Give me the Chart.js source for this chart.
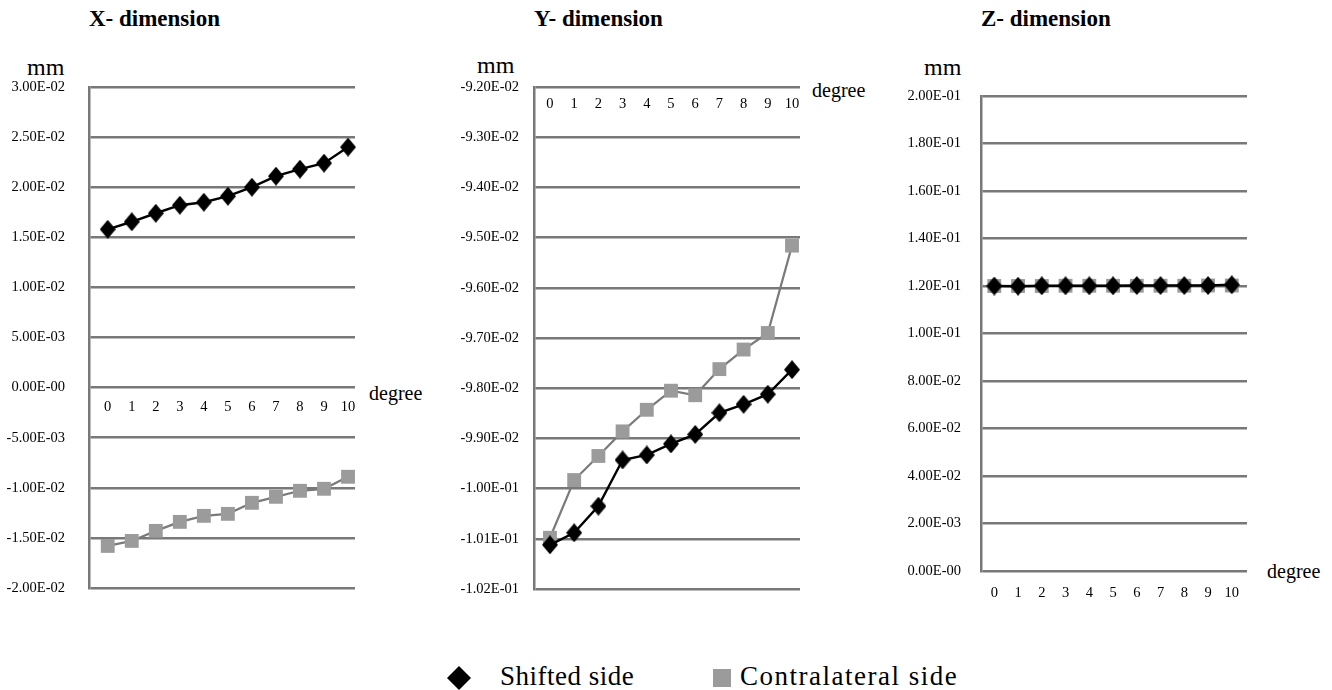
<!DOCTYPE html>
<html><head><meta charset="utf-8">
<script src="https://cdn.jsdelivr.net/npm/chart.js@4.4.0/dist/chart.umd.min.js"></script>
<style>
html,body{margin:0;padding:0;background:#fff;}
body{width:1332px;height:690px;position:relative;overflow:hidden;font-family:"Liberation Serif","DejaVu Serif",serif;color:#000;}
.t{position:absolute;white-space:nowrap;line-height:1;}
.title{font-weight:bold;font-size:23px;}
.unit{font-size:24px;}
.deg{font-size:20px;}
.cv{position:absolute;}
.leg{font-size:27px;letter-spacing:0.5px;}
</style></head><body>
<div class="t title" style="left:89px;top:7px;">X- dimension</div>
<div class="t title" style="left:534px;top:7px;">Y- dimension</div>
<div class="t title" style="left:981px;top:7px;">Z- dimension</div>
<div class="t unit" style="left:27px;top:55px;">mm</div>
<div class="t unit" style="left:477px;top:53px;">mm</div>
<div class="t unit" style="left:924px;top:55px;">mm</div>
<div class="t deg" style="left:369px;top:383px;">degree</div>
<div class="t deg" style="left:812px;top:80px;">degree</div>
<div class="t deg" style="left:1267px;top:561px;">degree</div>
<canvas id="cx" class="cv" width="440" height="560" style="left:0;top:60px;width:440px;height:560px;"></canvas>
<canvas id="cy" class="cv" width="440" height="560" style="left:440px;top:60px;width:440px;height:560px;"></canvas>
<canvas id="cz" class="cv" width="452" height="560" style="left:880px;top:60px;width:452px;height:560px;"></canvas>
<svg class="cv" style="left:447px;top:666px;" width="24" height="24"><polygon points="12,0 24,12 12,24 0,12" fill="#000"/></svg>
<div class="t leg" style="left:500px;top:663px;">Shifted side</div>
<div class="cv" style="left:713px;top:669px;width:18px;height:18px;background:#9b9b9b;"></div>
<div class="t leg" style="left:740px;top:663px;letter-spacing:1.5px;">Contralateral side</div>
<script>
const degrees = [0,1,2,3,4,5,6,7,8,9,10];
const degreeLabels = ['0','1','2','3','4','5','6','7','8','9','10'];

const xShifted = [0.0158,0.01655,0.0174,0.0182,0.0185,0.0191,0.0200,0.0211,0.0218,0.0224,0.0240];
const xContra  = [-0.0158,-0.0153,-0.0143,-0.0134,-0.0128,-0.0126,-0.0115,-0.0109,-0.0103,-0.0101,-0.0089];
const yShifted = [-0.10112,-0.10088,-0.10035,-0.09943,-0.09933,-0.09911,-0.09892,-0.09849,-0.09832,-0.09812,-0.09763];
const yContra  = [-0.10098,-0.09983,-0.09935,-0.09886,-0.09843,-0.09805,-0.09814,-0.09762,-0.09723,-0.09690,-0.09516];
const zShifted = [0.1200,0.1199,0.1201,0.1201,0.1201,0.1201,0.1202,0.1202,0.1202,0.1202,0.1205];
const zContra  = [0.1200,0.1200,0.1200,0.1201,0.1201,0.1201,0.1201,0.1201,0.1201,0.1202,0.1202];

const xTickValues = [0.03,0.025,0.02,0.015,0.01,0.005,0,-0.005,-0.01,-0.015,-0.02];
const xTickLabels = ['3.00E-02','2.50E-02','2.00E-02','1.50E-02','1.00E-02','5.00E-03','0.00E-00','-5.00E-03','-1.00E-02','-1.50E-02','-2.00E-02'];
const yTickValues = [-0.092,-0.093,-0.094,-0.095,-0.096,-0.097,-0.098,-0.099,-0.100,-0.101,-0.102];
const yTickLabels = ['-9.20E-02','-9.30E-02','-9.40E-02','-9.50E-02','-9.60E-02','-9.70E-02','-9.80E-02','-9.90E-02','-1.00E-01','-1.01E-01','-1.02E-01'];
const zTickValues = [0.20,0.18,0.16,0.14,0.12,0.10,0.08,0.06,0.04,0.02,0];
const zTickLabels = ['2.00E-01','1.80E-01','1.60E-01','1.40E-01','1.20E-01','1.00E-01','8.00E-02','6.00E-02','4.00E-02','2.00E-03','0.00E-00'];

const FONT = '"Liberation Serif", "DejaVu Serif", serif';

function diamondCanvas(w, h, color) {
  const c = document.createElement('canvas');
  c.width = w; c.height = h;
  const g = c.getContext('2d');
  g.fillStyle = color;
  g.beginPath();
  g.moveTo(w/2, 0); g.lineTo(w, h/2); g.lineTo(w/2, h); g.lineTo(0, h/2);
  g.closePath(); g.fill();
  return c;
}
const diamond = diamondCanvas(16, 19, '#000');

function makeChart(id, cfg) {
  const nearest = (vals, v) => {
    let best = 0;
    vals.forEach((t, i) => { if (Math.abs(t - v) < Math.abs(vals[best] - v)) best = i; });
    return best;
  };
  new Chart(document.getElementById(id), {
    type: 'line',
    data: {
      datasets: [
        { label: 'Shifted side', data: degrees.map((d, i) => ({x: d, y: cfg.shifted[i]})),
          borderColor: '#000', borderWidth: 2.4, pointStyle: diamond, pointRadius: 9,
          pointBackgroundColor: '#000', pointBorderWidth: 0, clip: false, tension: 0 },
        { label: 'Contralateral side', data: degrees.map((d, i) => ({x: d, y: cfg.contra[i]})),
          borderColor: '#7a7a7a', borderWidth: 2.2, pointStyle: 'rect', pointRadius: 9.8,
          pointBackgroundColor: '#9b9b9b', pointBorderWidth: 0, clip: false, tension: 0 }
      ]
    },
    options: {
      responsive: false, animation: false, events: [],
      layout: { padding: cfg.padding },
      plugins: { legend: { display: false }, tooltip: { enabled: false } },
      scales: {
        x: {
          type: 'linear', min: cfg.xMin, max: cfg.xMax, position: cfg.xPos,
          grid: { display: false, drawTicks: false }, border: { display: false },
          afterBuildTicks: s => { s.ticks = degrees.map(v => ({value: v})); },
          afterFit: s => { s.paddingLeft = 0; s.paddingRight = 0; },
          ticks: { font: { family: FONT, size: 14.5 }, color: '#000', padding: cfg.xPad,
                   maxRotation: 0, autoSkip: false,
                   callback: v => degreeLabels[nearest(degrees, v)] }
        },
        y: {
          min: cfg.yMin, max: cfg.yMax,
          afterBuildTicks: s => { s.ticks = cfg.tickValues.slice().reverse().map(v => ({value: v})); },
          afterFit: s => { s.width = cfg.axisW; s.paddingTop = 0; s.paddingBottom = 0; },
          grid: { color: '#787878', lineWidth: 2.5, drawTicks: false },
          border: { color: '#787878', width: 2.5 },
          ticks: { font: { family: FONT, size: 14.5 }, color: '#000', padding: cfg.yPad,
                   autoSkip: false,
                   callback: v => cfg.tickLabels[nearest(cfg.tickValues, v)] }
        }
      }
    }
  });
}

makeChart('cx', { shifted: xShifted, contra: xContra, xMin: -0.78, xMax: 10.29, xPos: {y: 0}, xPad: 11,
  yMin: -0.02, yMax: 0.03, tickValues: xTickValues, tickLabels: xTickLabels, axisW: 89, yPad: 24,
  padding: { left: 0, right: 85, top: 27, bottom: 32 } });
makeChart('cy', { shifted: yShifted, contra: yContra, xMin: -0.66, xMax: 10.33, xPos: {y: -0.092}, xPad: 8,
  yMin: -0.102, yMax: -0.092, tickValues: yTickValues, tickLabels: yTickLabels, axisW: 94, yPad: 15,
  padding: { left: 0, right: 80, top: 27, bottom: 31 } });
makeChart('cz', { shifted: zShifted, contra: zContra, xMin: -0.56, xMax: 10.64, xPos: {y: 0}, xPad: 13,
  yMin: 0, yMax: 0.2, tickValues: zTickValues, tickLabels: zTickLabels, axisW: 101, yPad: 20,
  padding: { left: 0, right: 85, top: 36, bottom: 49 } });
</script>
</body></html>
